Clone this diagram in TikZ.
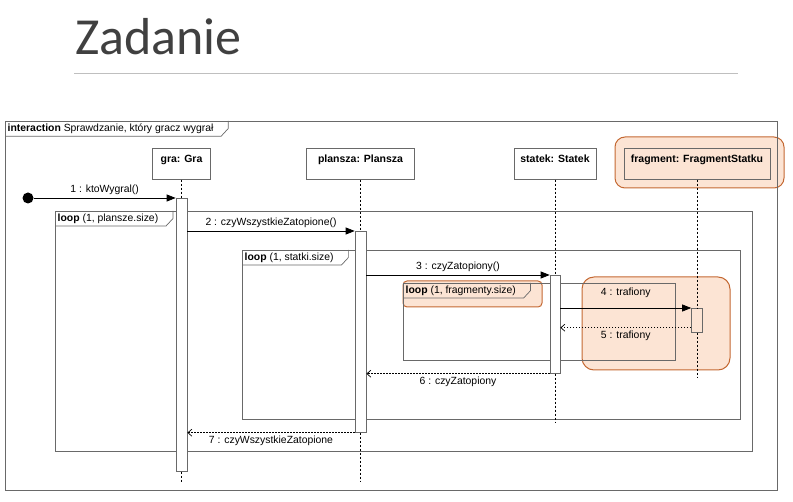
\documentclass[tikz,border=0pt]{standalone}
\usepackage{fontspec}
\setmainfont{Liberation Sans}
\newfontfamily\titlefont{Carlito}
\usetikzlibrary{arrows.meta,positioning}
\definecolor{framegray}{RGB}{105,105,105}
\definecolor{hlline}{RGB}{196,104,50}
\definecolor{hlfill}{RGB}{252,228,212}

\begin{document}
\begin{tikzpicture}[x=1pt,y=-1pt,
  font=\fontsize{10.4}{12}\selectfont,
  frame/.style={draw=framegray,line width=0.7pt},
  tab/.style={anchor=north west,inner xsep=2.5pt,inner ysep=2.5pt,execute at end node={\hspace{12pt}}},
  head/.style={draw=framegray,fill=white,line width=0.7pt,anchor=north,minimum height=31pt,
    inner xsep=4pt,inner ysep=4.5pt,text height=10pt,text depth=12pt,font=\fontsize{10.5}{12}\selectfont\bfseries},
  act/.style={draw=framegray,fill=white,line width=0.7pt,anchor=north,minimum width=11pt,inner sep=0pt},
  life/.style={line width=0.6pt,dash pattern=on 2pt off 2pt},
  msg/.style={-{Triangle[length=9pt,width=7pt]},line width=0.7pt},
  ret/.style={-{Straight Barb[length=4pt,width=7pt]},line width=0.7pt,dash pattern=on 1.5pt off 1.5pt},
  hl/.style={draw=hlline,line width=1pt,fill=hlfill}]
\useasboundingbox (0,0) rectangle (793,502);

% title
\node[anchor=base west,inner sep=0pt,text=black!75,font=\titlefont\fontsize{52}{60}\selectfont] (title) at (75,55) {Zadanie};
\draw[black!25,line width=1pt] (74,74) -- (738,74);

% highlights (behind)
\draw[hl,rounded corners=12pt] (582,277) rectangle (730,370);
\draw[hl,rounded corners=4pt] (403,281) rectangle (542,307);
\draw[hl,rounded corners=10pt] (615,137) rectangle (784,188);

% frames
\draw[frame] (5,121) rectangle (777,490);
\node[tab] (tInter) at (5,121) {\textbf{interaction} Sprawdzanie, który gracz wygrał};
\draw[frame] (tInter.south west) -- ([xshift=-7pt]tInter.south east) -- (tInter.east) -- (tInter.north east);

\draw[frame] (55,211) rectangle (752,451);
\node[tab] (tLoopA) at (55,211) {\textbf{loop} (1, plansze.size)};
\draw[frame] (tLoopA.south west) -- ([xshift=-7pt]tLoopA.south east) -- (tLoopA.east) -- (tLoopA.north east);

\draw[frame] (242,250) rectangle (740,419);
\node[tab] (tLoopB) at (242,250) {\textbf{loop} (1, statki.size)};
\draw[frame] (tLoopB.south west) -- ([xshift=-7pt]tLoopB.south east) -- (tLoopB.east) -- (tLoopB.north east);

\draw[frame] (403,283) rectangle (675,360);
\node[tab] (tLoopC) at (403,283) {\textbf{loop} (1, fragmenty.size)};
\draw[frame] (tLoopC.south west) -- ([xshift=-7pt]tLoopC.south east) -- (tLoopC.east) -- (tLoopC.north east);

% lifelines
\node[head,minimum width=58pt] (hGra) at (181.5,148) {gra: Gra};
\node[head,minimum width=108pt] (hPlansza) at (360.5,148) {plansza: Plansza};
\node[head,minimum width=82pt] (hStatek) at (555,148) {statek: Statek};
\node[head,minimum width=146pt,fill=none] (hFragment) at (697,148) {fragment: FragmentStatku};

\node[act,minimum height=273pt] (aGra) at (181.5,198) {};
\node[act,minimum height=201pt] (aPlansza) at (360.5,231) {};
\node[act,minimum width=10pt,minimum height=98pt] (aStatek) at (555,275) {};
\node[act,minimum height=24pt,fill=none] (aFragment) at (697,308) {};

\coordinate (eGra) at (181.5,483);
\coordinate (ePlansza) at (360.5,482);
\coordinate (eStatek) at (555,423);
\coordinate (eFragment) at (697,377);

\draw[life] (hGra) -- (aGra);
\draw[life] (aGra) -- (eGra);
\draw[life] (hPlansza) -- (aPlansza);
\draw[life] (aPlansza) -- (ePlansza);
\draw[life] (hStatek) -- (aStatek);
\draw[life] (aStatek) -- (eStatek);
\draw[life] (hFragment) -- (aFragment);
\draw[life] (aFragment) -- (eFragment);

% messages
\node[circle,fill=black,inner sep=0pt,minimum size=11pt] (start) at (28,198) {};
\draw[msg] (start) -- node[above,inner sep=3pt] {1 : ktoWygral()} (aGra.north west);
\draw[msg] (aGra.east |- aPlansza.north) -- node[above,inner sep=3pt] {2 : czyWszystkieZatopione()} (aPlansza.north west);
\draw[msg] (aPlansza.east |- aStatek.north) -- node[above,inner sep=3pt] {3 : czyZatopiony()} (aStatek.north west);
\draw[msg] (aStatek.east |- aFragment.north) -- node[above=7pt,inner sep=3pt] {4 : trafiony} (aFragment.north west);
\coordinate (r5) at ([yshift=5pt]aFragment.south west);
\draw[ret] (r5) -- node[below,inner sep=3pt] {5 : trafiony} (r5 -| aStatek.east);
\draw[ret] (aStatek.south west) -- node[below,inner sep=3pt] {6 : czyZatopiony} (aPlansza.east |- aStatek.south);
\draw[ret] (aPlansza.south west) -- node[below,inner sep=3pt] {7 : czyWszystkieZatopione} (aGra.east |- aPlansza.south);
\end{tikzpicture}
\end{document}
